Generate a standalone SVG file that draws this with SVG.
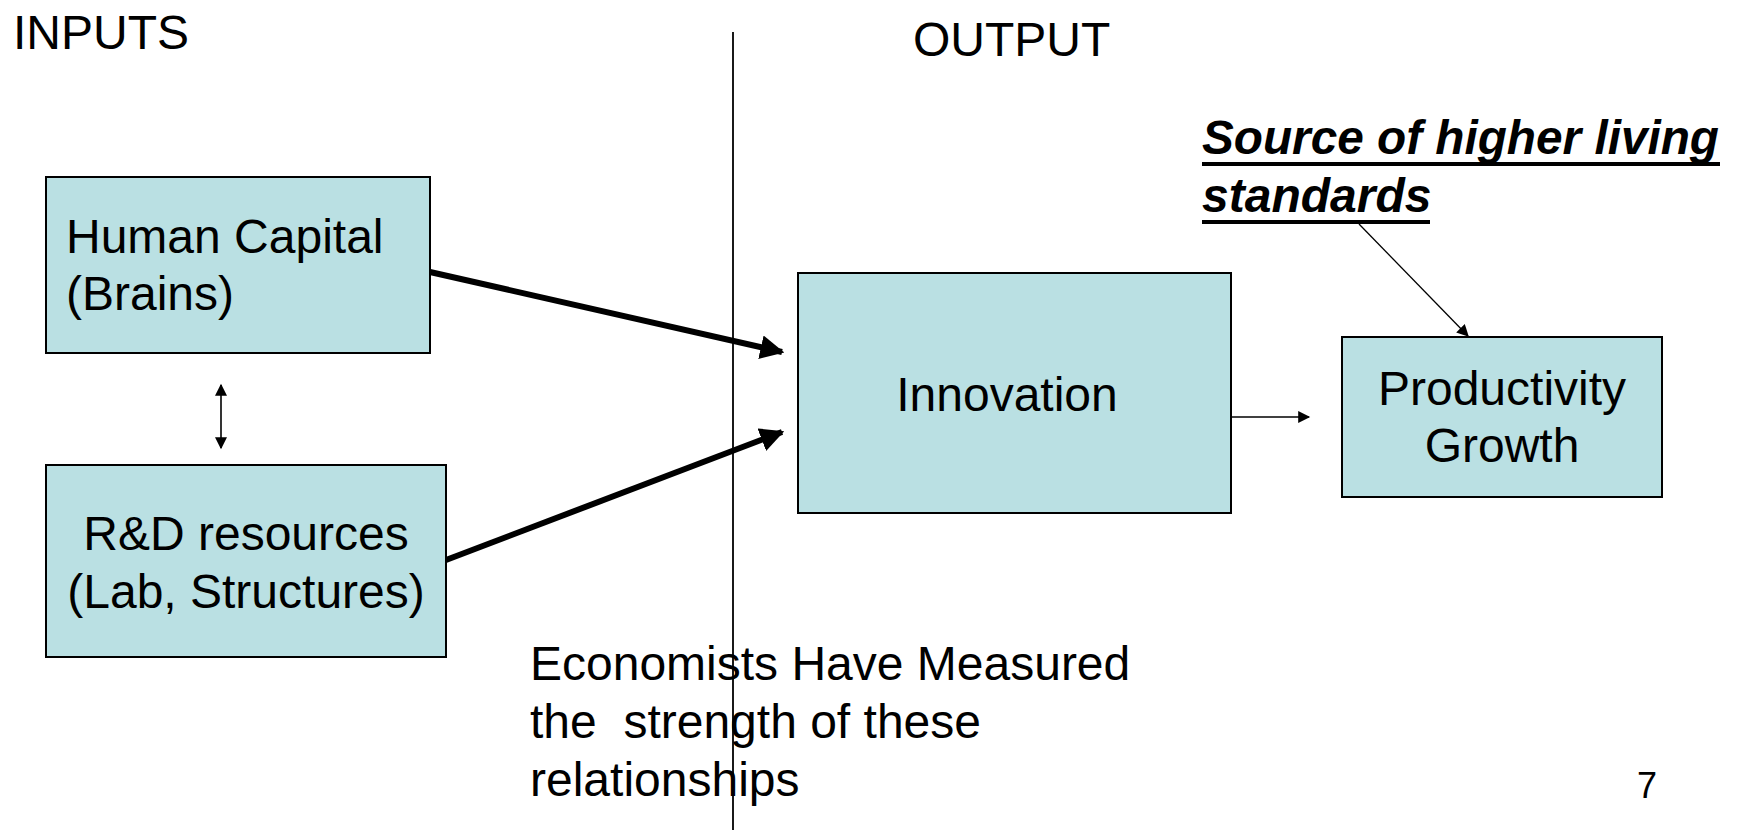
<svg xmlns="http://www.w3.org/2000/svg" width="1744" height="830" viewBox="0 0 1744 830">
  <style>
    .box { fill: #BAE0E3; stroke: #000; stroke-width: 2; }
    .t { font-family: "Liberation Sans", Arial, sans-serif; font-size: 48px; fill: #000; }
    .mid { text-anchor: middle; }
    .note { font-weight: bold; font-style: italic; }
    .uline { stroke: #000; stroke-width: 4; }
    .pagenum { font-size: 36px; }
    .thick { stroke: #000; stroke-width: 6; fill: none; }
    .thin { stroke: #000; stroke-width: 1.6; fill: none; }
    .hair { stroke: #000; stroke-width: 1.3; fill: none; }
  </style>
  <defs>
    <marker id="headBig" viewBox="0 0 10 10" refX="9" refY="5" markerUnits="userSpaceOnUse" markerWidth="24" markerHeight="24" orient="auto">
      <path d="M0,0 L10,5 L0,10 z" fill="#000"/>
    </marker>
    <marker id="headSmall" viewBox="0 0 10 10" refX="9" refY="5" markerUnits="userSpaceOnUse" markerWidth="13" markerHeight="12" orient="auto-start-reverse">
      <path d="M0,0 L10,5 L0,10 z" fill="#000"/>
    </marker>
  </defs>

  <rect width="1744" height="830" fill="#fff"/>

  <!-- section headings and divider -->
  <text class="t" x="13" y="49">INPUTS</text>
  <text class="t" x="913" y="56">OUTPUT</text>
  <line x1="733" y1="32" x2="733" y2="830" stroke="#000" stroke-width="1.8"/>

  <!-- nodes -->
  <g id="human-capital">
    <rect class="box" x="46" y="177" width="384" height="176"/>
    <text class="t" x="66" y="253">Human Capital</text>
    <text class="t" x="66" y="310">(Brains)</text>
  </g>

  <g id="rd-resources">
    <rect class="box" x="46" y="465" width="400" height="192"/>
    <text class="t mid" x="246" y="550">R&amp;D resources</text>
    <text class="t mid" x="246" y="608">(Lab, Structures)</text>
  </g>

  <g id="innovation">
    <rect class="box" x="798" y="273" width="433" height="240"/>
    <text class="t mid" x="1007" y="411">Innovation</text>
  </g>

  <g id="productivity-growth">
    <rect class="box" x="1342" y="337" width="320" height="160"/>
    <text class="t mid" x="1502" y="405">Productivity</text>
    <text class="t mid" x="1502" y="462">Growth</text>
  </g>

  <!-- underlined bold-italic caption -->
  <g id="living-standards-note">
    <text class="t note" x="1202" y="154" textLength="517" lengthAdjust="spacingAndGlyphs">Source of higher living</text>
    <line class="uline" x1="1202" y1="164" x2="1720" y2="164"/>
    <text class="t note" x="1202" y="212">standards</text>
    <line class="uline" x1="1202" y1="222" x2="1430" y2="222"/>
  </g>

  <g id="measurement-note">
    <text class="t" x="530" y="680">Economists Have Measured</text>
    <text class="t" x="530" y="738" xml:space="preserve">the  strength of these</text>
    <text class="t" x="530" y="796">relationships</text>
  </g>

  <text class="t pagenum" x="1637" y="798">7</text>

  <!-- connectors -->
  <g id="connectors">
    <line class="thick" x1="430" y1="272" x2="782" y2="352" marker-end="url(#headBig)"/>
    <line class="thick" x1="446" y1="560" x2="782" y2="432" marker-end="url(#headBig)"/>
    <line class="thin" x1="221" y1="385" x2="221" y2="448" marker-start="url(#headSmall)" marker-end="url(#headSmall)"/>
    <line class="thin" x1="1231" y1="417" x2="1309" y2="417" marker-end="url(#headSmall)"/>
    <line class="hair" x1="1359" y1="224" x2="1468" y2="336" marker-end="url(#headSmall)"/>
  </g>
</svg>
